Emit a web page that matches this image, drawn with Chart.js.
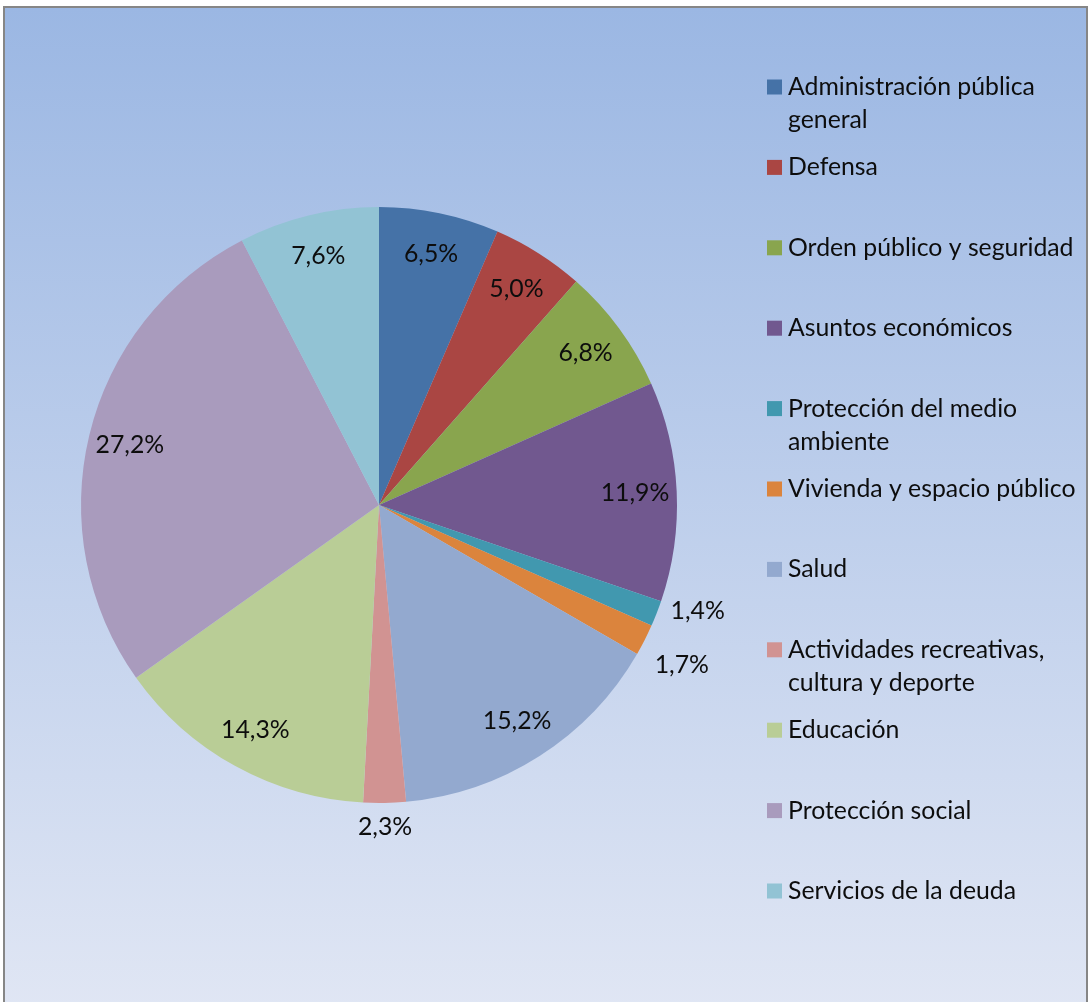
<!DOCTYPE html>
<html>
<head>
<meta charset="utf-8">
<script src="https://cdn.jsdelivr.net/npm/chart.js@4.4.0/dist/chart.umd.min.js"></script>
<style>
  html, body { margin: 0; padding: 0; background: #fff; }
  #frame {
    position: absolute; left: 3px; top: 6px; width: 1081px; height: 1000px;
    border: 2px solid #868686; border-bottom: none;
    background: linear-gradient(to bottom, #9bb7e3, #e0e6f4);
  }
  #pie { position: absolute; left: 0; top: 0; }
</style>
</head>
<body>
<div id="frame"></div>
<canvas id="pie" width="1088" height="1002"></canvas>
<script>
const categories = [
  'Administración pública general', 'Defensa', 'Orden público y seguridad',
  'Asuntos económicos', 'Protección del medio ambiente', 'Vivienda y espacio público',
  'Salud', 'Actividades recreativas, cultura y deporte', 'Educación',
  'Protección social', 'Servicios de la deuda'
];
const shares = [6.5, 5.0, 6.8, 11.9, 1.4, 1.7, 15.2, 2.3, 14.3, 27.2, 7.6];
const colors = [
  '#4572a7', '#aa4643', '#89a54e', '#71588f', '#4198af', '#db843d',
  '#93a9cf', '#d19392', '#b9cd96', '#a99bbd', '#92c3d4'
];

const FONT = '24.8px Lato';

const fmt = v => v.toFixed(1).replace('.', ',') + '%';

// percent labels, inside the slice or just outside for the thin ones
const sliceLabels = {
  id: 'sliceLabels',
  afterDatasetsDraw(chart) {
    const ctx = chart.ctx;
    const arcs = chart.getDatasetMeta(0).data;
    ctx.save();
    ctx.font = FONT;
    ctx.fillStyle = '#0d0d0d';
    ctx.textAlign = 'center';
    ctx.textBaseline = 'middle';
    const pos = arcs.map((arc, i) => {
      const p = arc.getProps(['x', 'y', 'startAngle', 'endAngle', 'outerRadius'], true);
      const mid = (p.startAngle + p.endAngle) / 2;
      const txt = fmt(shares[i]);
      const w = ctx.measureText(txt).width;
      const out = shares[i] < 3;
      const r = out
        ? p.outerRadius + 12 + Math.abs(Math.cos(mid)) * w / 2 + Math.abs(Math.sin(mid)) * 12
        : p.outerRadius * 0.86;
      return { txt, out, x: p.x + Math.cos(mid) * r, y: p.y + Math.sin(mid) * r };
    });
    // push neighbouring outside labels apart
    for (let i = 1; i < pos.length; i++) {
      const a = pos[i - 1], b = pos[i];
      if (a.out && b.out && Math.abs(b.y - a.y) < 54) {
        const d = 54 - Math.abs(b.y - a.y);
        a.y -= d * 0.75; a.x += d * 0.1;
        b.y += d * 0.25;
      }
    }
    pos.forEach(l => ctx.fillText(l.txt, l.x, l.y));
    ctx.restore();
  }
};

function wrap(ctx, text, maxW) {
  const words = text.split(' ');
  const lines = [];
  let cur = '';
  words.forEach(wd => {
    const t = cur ? cur + ' ' + wd : wd;
    if (cur && ctx.measureText(t).width > maxW) { lines.push(cur); cur = wd; }
    else cur = t;
  });
  lines.push(cur);
  return lines;
}

// legend drawn in fixed slots down the right side
const sideLegend = {
  id: 'sideLegend',
  afterDraw(chart) {
    const ctx = chart.ctx;
    const x0 = 767, y0 = 87, step = 80.4, lineH = 33;
    ctx.save();
    ctx.font = FONT;
    ctx.textBaseline = 'middle';
    ctx.textAlign = 'left';
    categories.forEach((name, i) => {
      const y = y0 + i * step;
      ctx.fillStyle = colors[i];
      ctx.fillRect(x0, y - 7.5, 15, 15);
      ctx.fillStyle = '#0d0d0d';
      wrap(ctx, name, 298).forEach((ln, k) => ctx.fillText(ln, x0 + 21, y + k * lineH));
    });
    ctx.restore();
  }
};

new Chart(document.getElementById('pie'), {
  type: 'pie',
  data: {
    labels: categories,
    datasets: [{
      data: shares,
      backgroundColor: colors,
      borderWidth: 0
    }]
  },
  options: {
    responsive: false,
    animation: false,
    layout: { padding: { left: 81, right: 411, top: 207, bottom: 199 } },
    plugins: {
      legend: { display: false },
      tooltip: { enabled: false }
    }
  },
  plugins: [sliceLabels, sideLegend]
});
</script>
</body>
</html>
